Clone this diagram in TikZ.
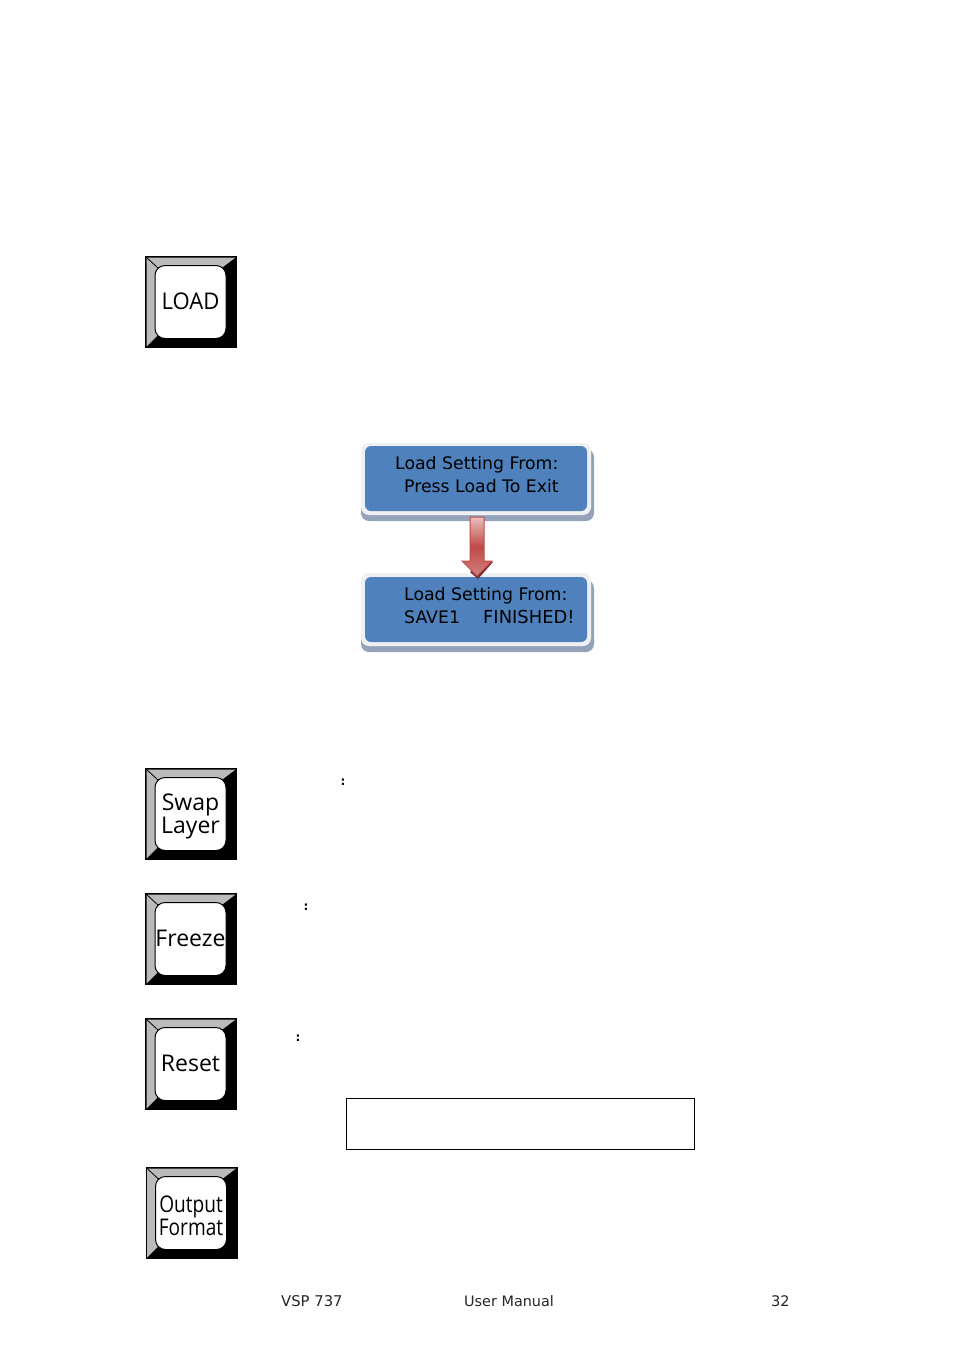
\documentclass[tikz,border=0pt]{standalone}
\usepackage{fontspec}
\setmainfont{DejaVu Sans}
\newfontfamily\keyfont{Open Sans}
\definecolor{lcdblue}{HTML}{4F81BD}
\definecolor{lcdshadow}{HTML}{95A3BA}
\definecolor{lcdrim}{HTML}{EEF0F3}
\definecolor{bevel}{HTML}{BBBBBB}
\definecolor{arrowedge}{HTML}{BE4B48}
\definecolor{arrowdark}{HTML}{7A2E2C}
\tikzset{
  keyface/.style={draw=black,line width=1pt,fill=white,rounded corners=10pt,minimum width=71pt,minimum height=73pt,inner sep=0pt},
  keylabel/.style={inner sep=0pt,align=center,font=\keyfont\fontsize{23}{24}\selectfont},
  lcdbox/.style={fill=lcdblue,rounded corners=6pt,minimum width=222pt,minimum height=65pt,inner sep=0pt},
  lcdtext/.style={anchor=base west,inner sep=0pt,font=\fontsize{17.3}{20}\selectfont,text=black},
  foot/.style={anchor=base west,inner sep=0pt,font=\fontsize{14.6}{18}\selectfont,text=black!85},
  colonmark/.style={inner sep=0pt,font=\bfseries\fontsize{12}{14}\selectfont},
}
% #1 name, #2 left, #3 top, #4 label drop, #5 label
\newcommand{\keycap}[5]{%
  \fill[black] (#2,#3) rectangle ++(92,92);
  \fill[bevel] (#2+1.5,#3+90.5) -- (#2+1.5,#3+1.5) -- (#2+90.5,#3+1.5) -- (#2+78,#3+11) -- (#2+12,#3+11) -- (#2+12,#3+80) -- cycle;
  \draw[black,line width=0.8pt] (#2+1,#3+1) -- (#2+13,#3+12);
  \node[keyface] (#1) at (#2+45.5,#3+46) {};
  \node[keylabel] (#1text) at (#2+45.5,#3+46+#4) {#5};
}
\begin{document}
\begin{tikzpicture}[x=1pt,y=-1pt]
\useasboundingbox (0,0) rectangle (954,1350);
\keycap{keyload}{145}{256}{-1}{\scalebox{0.96}[1]{LOAD}}
\keycap{keyswap}{145}{768}{2}{Swap\\[-1pt]Layer}
\keycap{keyfreeze}{145}{893}{-1}{Freeze}
\keycap{keyreset}{145}{1018}{-1}{Reset}
\keycap{keyoutput}{145.5}{1167}{3}{\scalebox{0.83}[1]{Output}\\[-1pt]\scalebox{0.83}[1]{Format}}
% LCD one
\fill[lcdshadow,rounded corners=8pt] (361,449) rectangle (594,521);
\fill[lcdrim,rounded corners=8pt] (361,443) rectangle (591,515);
\node[lcdbox] (lcdone) at (476,478.5) {};
% LCD two
\fill[lcdshadow,rounded corners=8pt] (361,580) rectangle (594,652);
\fill[lcdrim,rounded corners=8pt] (361,573) rectangle (591,646);
\node[lcdbox] (lcdtwo) at (476,609.5) {};
\node[lcdtext] (tone) at (395,469) {Load Setting From:};
\node[lcdtext] (ttwo) at (404,492) {Press Load To Exit};
\node[lcdtext] (tthree) at (404,600) {Load Setting From:};
\node[lcdtext] (tfour) at (404,623) {SAVE1};
\node[lcdtext,font=\fontsize{17.9}{20}\selectfont] (tfive) at (483,623) {FINISHED!};
% block arrow
\fill[arrowdark] (493,562) -- (478,579) -- (470,572) -- (488,561) -- cycle;
\path[draw=arrowedge,line width=1pt,top color=arrowedge!35!white,bottom color=arrowedge!70!white,middle color=arrowedge,shading angle=0]
  (470,517) -- (484,517) -- (484,561) -- (492,561) -- (477,576) -- (462,561) -- (470,561) -- cycle;
% colons
\node[colonmark] (cswap) at (343,782) {:};
\node[colonmark] (cfreeze) at (306,907) {:};
\node[colonmark] (creset) at (298,1038) {:};
% empty box
\node[draw=black,line width=0.9pt,fill=white,minimum width=348pt,minimum height=51pt,inner sep=0pt] (emptybox) at (520.5,1124) {};
% footer
\node[foot,font=\fontsize{14.8}{18}\selectfont] (fa) at (281,1306) {VSP 737};
\node[foot,font=\fontsize{14.4}{18}\selectfont] (fb) at (464,1306) {User Manual};
\node[foot] (fc) at (771,1306) {32};
\end{tikzpicture}
\end{document}
